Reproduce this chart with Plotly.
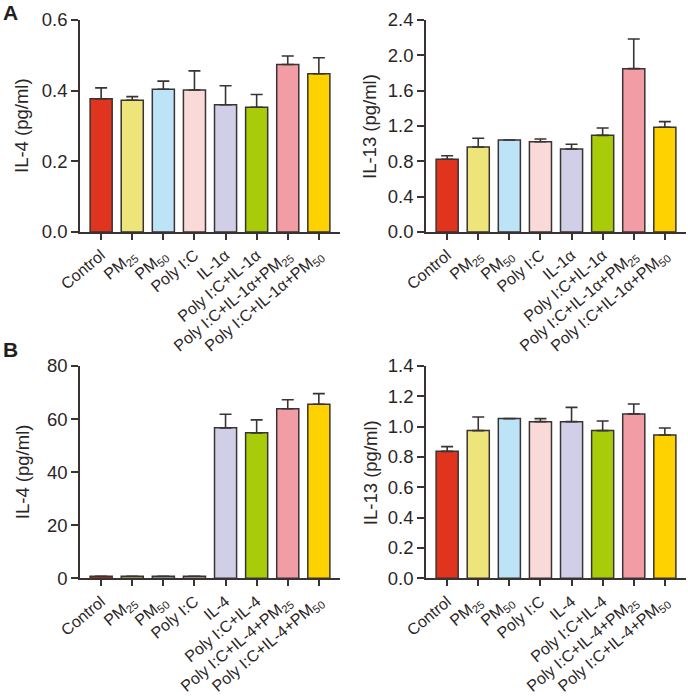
import plotly.graph_objects as go

# ---------------- data ----------------
labels_A = ["Control", "PM<sub>25</sub>", "PM<sub>50</sub>", "Poly I:C", "IL-1α",
            "Poly I:C+IL-1α", "Poly I:C+IL-1α+PM<sub>25</sub>", "Poly I:C+IL-1α+PM<sub>50</sub>"]
labels_B = ["Control", "PM<sub>25</sub>", "PM<sub>50</sub>", "Poly I:C", "IL-4",
            "Poly I:C+IL-4", "Poly I:C+IL-4+PM<sub>25</sub>", "Poly I:C+IL-4+PM<sub>50</sub>"]
bar_colors = ["#E0341F", "#EEE57A", "#BDE3F7", "#FAD9D9", "#D0CFE7", "#A9CC0A", "#F29CA6", "#FED100"]

a_il4 = [0.377, 0.373, 0.404, 0.402, 0.360, 0.353, 0.474, 0.448]
a_il4_err = [0.031, 0.010, 0.023, 0.054, 0.054, 0.036, 0.024, 0.045]
a_il13 = [0.823, 0.962, 1.042, 1.022, 0.940, 1.094, 1.849, 1.185]
a_il13_err = [0.041, 0.099, 0.0, 0.031, 0.053, 0.083, 0.336, 0.064]
b_il4 = [0.8, 0.8, 0.8, 0.8, 56.7, 54.8, 63.9, 65.6]
b_il4_err = [0.0, 0.0, 0.0, 0.0, 5.1, 4.9, 3.4, 4.0]
b_il13 = [0.837, 0.974, 1.053, 1.033, 1.033, 0.974, 1.084, 0.945]
b_il13_err = [0.031, 0.090, 0.0, 0.020, 0.094, 0.063, 0.065, 0.046]

y_titles = ["IL-4 (pg/ml)", "IL-13 (pg/ml)", "IL-4 (pg/ml)", "IL-13 (pg/ml)"]
y_ranges = [[0, 0.6], [0, 2.4], [0, 80], [0, 1.4]]
y_dticks = [0.2, 0.4, 20, 0.2]
y_formats = [".1f", ".1f", "d", ".1f"]

panels = [
    (labels_A, a_il4, a_il4_err),
    (labels_A, a_il13, a_il13_err),
    (labels_B, b_il4, b_il4_err),
    (labels_B, b_il13, b_il13_err),
]

# ---------------- layout geometry ----------------
W, H = 688, 697
FONT = "Liberation Sans, Arial, Helvetica, sans-serif"
INK = "#2b2626"
LINE = "#3a3333"

x_domains = [[80 / W, 340 / W], [426 / W, 686 / W]]
y_domains = [[1 - 232 / H, 1 - 20 / H], [1 - 578.3 / H, 1 - 366 / H]]

fig = go.Figure()
positions = list(range(8))

layout = dict(
    width=W, height=H,
    margin=dict(l=0, r=0, t=0, b=0, autoexpand=False),
    paper_bgcolor="white", plot_bgcolor="white",
    showlegend=False,
    font=dict(family=FONT, color=INK),
    bargap=0.29,
    annotations=[],
)

for i, (labs, vals, errs) in enumerate(panels):
    n = i + 1
    xa = "x" if n == 1 else f"x{n}"
    ya = "y" if n == 1 else f"y{n}"
    col, row = i % 2, i // 2
    fig.add_trace(go.Bar(
        x=positions, y=vals,
        marker=dict(color=bar_colors, line=dict(color=LINE, width=1.5)),
        error_y=dict(type="data", symmetric=False, array=errs, arrayminus=[0] * len(errs),
                     color=LINE, thickness=1.6, width=6),
        xaxis=xa, yaxis=ya, width=0.71,
    ))
    xkey = "xaxis" if n == 1 else f"xaxis{n}"
    ykey = "yaxis" if n == 1 else f"yaxis{n}"
    layout[xkey] = dict(
        domain=x_domains[col], anchor=ya,
        range=[-0.68, 7.68],
        tickmode="array", tickvals=positions, ticktext=labs,
        tickangle=-40, automargin=False,
        ticks="outside", ticklen=6, tickwidth=1.5, tickcolor=LINE,
        showline=True, linecolor=LINE, linewidth=1.5,
        showgrid=False, zeroline=False,
        tickfont=dict(family=FONT, size=16, color=INK),
        fixedrange=True,
    )
    layout[ykey] = dict(
        domain=y_domains[row], anchor=xa,
        range=y_ranges[i], dtick=y_dticks[i], tick0=0, tickformat=y_formats[i],
        automargin=False,
        ticks="outside", ticklen=7, tickwidth=1.5, tickcolor=LINE,
        showline=True, linecolor=LINE, linewidth=1.5,
        showgrid=False, zeroline=False,
        tickfont=dict(family=FONT, size=18.5, color=INK),
        fixedrange=True,
    )
    # y-axis title as rotated annotation
    ycenter = (y_domains[row][0] + y_domains[row][1]) / 2
    xcenter = (22 if col == 0 else 370) / W
    layout["annotations"].append(dict(
        text=y_titles[i], textangle=-90, xref="paper", yref="paper",
        x=xcenter, y=ycenter, xanchor="center", yanchor="middle",
        showarrow=False, font=dict(family=FONT, size=18.5, color=INK),
    ))

# panel letters
for letter, ypx in [("A", 12.5), ("B", 349.5)]:
    layout["annotations"].append(dict(
        text=f"<b>{letter}</b>", xref="paper", yref="paper",
        x=1 / W, y=1 - ypx / H, xanchor="left", yanchor="middle",
        showarrow=False, font=dict(family=FONT, size=21, color="#231f20"),
    ))

fig.update_layout(**layout)
fig.write_html("out.html", config={"displayModeBar": False},
               post_script="document.body.style.margin='0';document.body.style.padding='0';")
